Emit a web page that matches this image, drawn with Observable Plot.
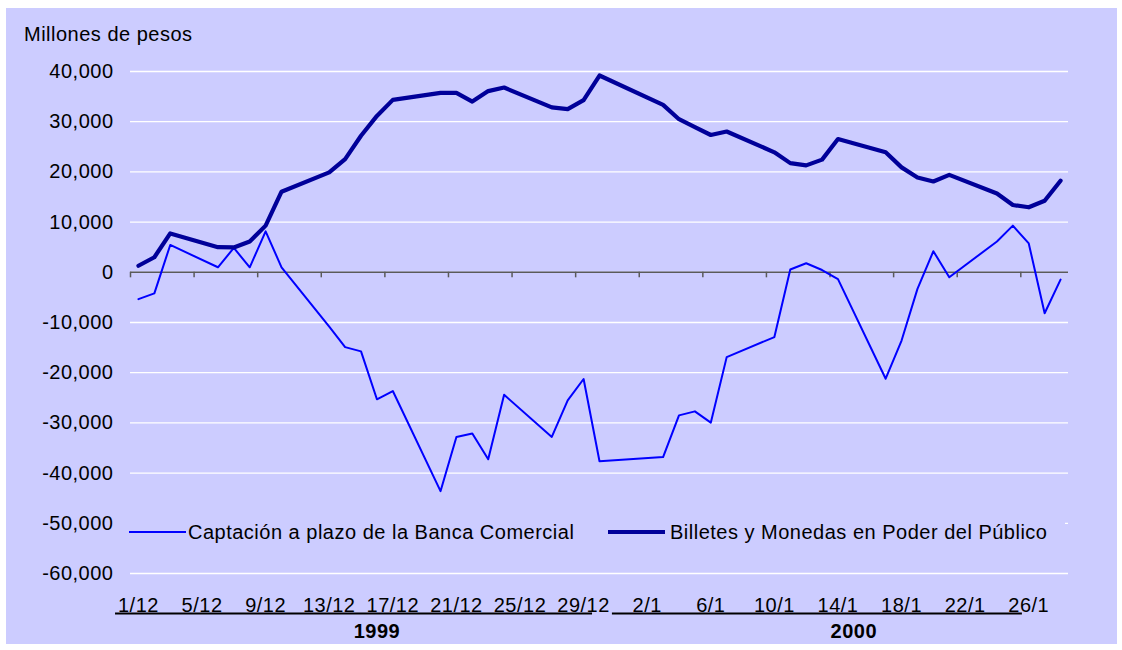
<!DOCTYPE html>
<html><head><meta charset="utf-8">
<script src="https://cdn.jsdelivr.net/npm/d3@7"></script>
<script src="https://cdn.jsdelivr.net/npm/@observablehq/plot@0.6"></script>
<style>
html,body{margin:0;padding:0;background:#fff;}
#wrap{position:relative;width:1122px;height:650px;font-family:"Liberation Sans",Arial,sans-serif;letter-spacing:0.5px;color:#000;overflow:hidden;}
#bg{position:absolute;left:6px;top:8px;width:1111px;height:636px;background:#CCCCFF;}
#chart{position:absolute;left:0;top:0;}
#ytitle{position:absolute;left:24px;top:24px;font-size:20px;line-height:20px;white-space:nowrap;}
#legend{position:absolute;left:128px;top:514px;width:937px;height:34px;background:#CCCCFF;}
#legend .sw{position:absolute;}
#legend .lb{position:absolute;top:8px;font-size:20px;line-height:20px;white-space:nowrap;}
</style></head><body>
<div id="wrap">
  <div id="bg"></div>
  <div id="chart"></div>
  <div id="ytitle"></div>
  <div id="legend"></div>
</div>
<script>
// ---- data ----
const dates = [
  "1999-12-01","1999-12-02","1999-12-03","1999-12-06","1999-12-07","1999-12-08","1999-12-09","1999-12-10",
  "1999-12-13","1999-12-14","1999-12-15","1999-12-16","1999-12-17","1999-12-20","1999-12-21","1999-12-22",
  "1999-12-23","1999-12-24","1999-12-27","1999-12-28","1999-12-29","1999-12-30",
  "2000-01-03","2000-01-04","2000-01-05","2000-01-06","2000-01-07","2000-01-10","2000-01-11","2000-01-12",
  "2000-01-13","2000-01-14","2000-01-17","2000-01-18","2000-01-19","2000-01-20","2000-01-21","2000-01-24",
  "2000-01-25","2000-01-26","2000-01-27","2000-01-28"
];
const captacion = [
  -5350,-4200,5450,1000,4850,1000,8150,1000,
  -10800,-14900,-15750,-25300,-23650,-43600,-32800,-32100,
  -37250,-24400,-32800,-25500,-21250,-37650,
  -36800,-28500,-27700,-29950,-16900,-12900,550,1800,
  450,-1350,-21200,-13600,-3300,4200,-1000,6150,
  9300,5750,-8150,-1450
];
const billetes = [
  1300,3000,7750,5000,4950,6150,9300,16050,
  19900,22550,27200,31150,34350,35750,35750,34000,
  36100,36800,32850,32500,34300,39200,
  33350,30500,28900,27350,28050,23900,21750,21300,
  22450,26550,23900,20900,18900,18100,19400,15700,
  13400,12950,14250,18250
];
const seriesNames = ["Captación a plazo de la Banca Comercial", "Billetes y Monedas en Poder del Público"];
const yTicks = [-60000,-50000,-40000,-30000,-20000,-10000,0,10000,20000,30000,40000];
const xTickDates = ["1999-12-01","1999-12-05","1999-12-09","1999-12-13","1999-12-17","1999-12-21","1999-12-25","1999-12-29",
  "2000-01-02","2000-01-06","2000-01-10","2000-01-14","2000-01-18","2000-01-22","2000-01-26"];
const xTickLabels = ["1/12","5/12","9/12","13/12","17/12","21/12","25/12","29/12","2/1","6/1","10/1","14/1","18/1","22/1","26/1"];
const yearGroups = [
  {year:"1999", start:"1999-12-01", end:"1999-12-31"},
  {year:"2000", start:"2000-01-02", end:"2000-01-28"}
];
const yTitle = "Millones de pesos";

// ---- build ----
const parse = d3.utcParse("%Y-%m-%d");
const noon = s => d3.utcHour.offset(parse(s), 12);
const rows = dates.map((d, i) => ({date: noon(d), captacion: captacion[i], billetes: billetes[i]}));
const fmtY = d => (d < 0 ? "-" : "") + d3.format(",")(Math.abs(d));
const colors = ["#0000FF", "#000099"];
const widths = [2, 4.2];
const mid = g => new Date((+noon(g.start) + +noon(g.end)) / 2);
const lineOffsets = {"1999": [-22.6, -22.5], "2000": [-40.5, -45.6]};

const chart = Plot.plot({
  width: 1122, height: 650,
  marginLeft: 130, marginRight: 54, marginTop: 71, marginBottom: 77,
  style: {background: "transparent", fontFamily: "'Liberation Sans', Arial, sans-serif", fontSize: "20px", letterSpacing: "0.5px", overflow: "visible", color: "#000"},
  x: {type: "utc", domain: [parse("1999-12-01"), parse("2000-01-29")], axis: null},
  y: {domain: [-60000, 40000], axis: null},
  marks: [
    Plot.ruleY(yTicks, {stroke: "white", strokeWidth: 1.3}),
    Plot.text(yTicks, {y: d => d, frameAnchor: "left", dx: -17, textAnchor: "end", lineAnchor: "middle", text: fmtY, fill: "black", fontSize: 20}),
    Plot.ruleY([0], {stroke: "#5a5a5a", strokeWidth: 1.5}),
    Plot.ruleX(xTickDates, {x: d => parse(d), y1: 0, y2: -1100, stroke: "#5a5a5a", strokeWidth: 1.5}),
    Plot.text(xTickDates, {x: d => noon(d), frameAnchor: "bottom", lineAnchor: "middle", dy: 32, text: (d, i) => xTickLabels[i], fill: "black", fontSize: 20}),
    Plot.ruleY(yearGroups, {
      y: () => -60000, dy: 40,
      x1: g => d3.utcMinute.offset(parse(g.start), Math.round(lineOffsets[g.year][0] * 60)),
      x2: g => d3.utcMinute.offset(parse(g.end), Math.round(lineOffsets[g.year][1] * 60)),
      stroke: "black", strokeWidth: 2
    }),
    Plot.text(yearGroups, {x: mid, frameAnchor: "bottom", lineAnchor: "middle", dy: 58, text: "year", fontWeight: "bold", fill: "black", fontSize: 20}),
    Plot.line(rows, {x: "date", y: "captacion", stroke: colors[0], strokeWidth: widths[0]}),
    Plot.line(rows, {x: "date", y: "billetes", stroke: colors[1], strokeWidth: widths[1]})
  ]
});
document.getElementById("chart").appendChild(chart);
document.getElementById("ytitle").textContent = yTitle;

// legend
const legend = document.getElementById("legend");
const swLeft = [1, 480], lbLeft = [60, 542];
seriesNames.forEach((name, i) => {
  const sw = document.createElement("div");
  sw.className = "sw";
  sw.style.left = swLeft[i] + "px";
  sw.style.width = "57px";
  sw.style.top = (18 - widths[i] / 2) + "px";
  sw.style.height = widths[i] + "px";
  sw.style.background = colors[i];
  legend.appendChild(sw);
  const lb = document.createElement("div");
  lb.className = "lb";
  lb.style.left = lbLeft[i] + "px";
  lb.textContent = name;
  legend.appendChild(lb);
});
</script>
</body></html>
